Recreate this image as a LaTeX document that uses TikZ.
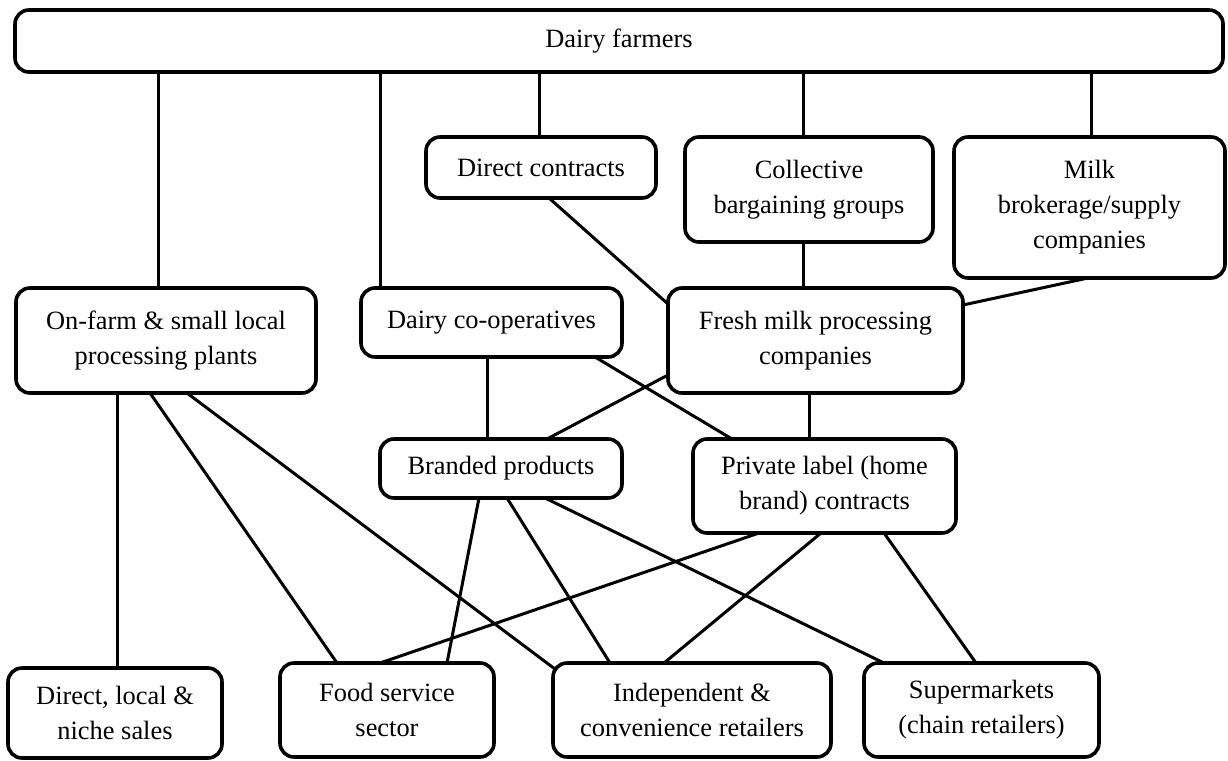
\documentclass[tikz,border=0pt]{standalone}
\usepackage{fontspec}
\setmainfont{Liberation Serif}
\begin{document}
\begin{tikzpicture}[x=1pt,y=-1pt,
  box/.style={draw=black, line width=3.6pt, fill=white, rounded corners=14pt,
    inner sep=0pt, outer sep=0pt, anchor=north west, align=center,
    font=\fontsize{26.4}{35}\selectfont},
  link/.style={draw=black, line width=3pt}]
\useasboundingbox (0,0) rectangle (1228,760);
% nodes: position = top-left corner, size from reference
\node[box, minimum width=1208pt, minimum height=62pt] (farmers) at (15,10) {Dairy farmers};
\node[box, minimum width=230pt, minimum height=61pt] (direct) at (426,137) {Direct contracts};
\node[box, minimum width=248pt, minimum height=105pt] (collective) at (685,137) {Collective\\bargaining groups};
\node[box, minimum width=271pt, minimum height=141pt] (milk) at (954,137) {Milk\\brokerage/supply\\companies};
\node[box, minimum width=300pt, minimum height=105pt] (onfarm) at (16,288) {On-farm \& small local\\processing plants};
\node[box, minimum width=261pt, minimum height=69pt] (coop) at (361,288) {Dairy co-operatives};
\node[box, minimum width=295pt, minimum height=105pt] (fresh) at (668,288) {Fresh milk processing\\companies};
\node[box, minimum width=242pt, minimum height=59pt] (branded) at (380,439) {Branded products};
\node[box, minimum width=263pt, minimum height=94pt] (private) at (693,439) {Private label (home\\brand) contracts};
\node[box, minimum width=214pt, minimum height=90pt] (dlocal) at (8,668) {Direct, local \&\\niche sales};
\node[box, minimum width=214pt, minimum height=94pt] (food) at (280,663) {Food service\\sector};
\node[box, minimum width=278pt, minimum height=94pt] (indep) at (553,663) {Independent \&\\convenience retailers};
\node[box, minimum width=235pt, minimum height=94pt] (super) at (864,663) {Supermarkets\\(chain retailers)};
% connectors
\draw[link] ([xshift=143pt]farmers.south west) -- ([xshift=142pt]onfarm.north west);
\draw[link] ([xshift=365pt]farmers.south west) -- ([xshift=19pt]coop.north west);
\draw[link] ([xshift=524pt]farmers.south west) -- ([xshift=113pt]direct.north west);
\draw[link] ([xshift=788pt]farmers.south west) -- ([xshift=118pt]collective.north west);
\draw[link] ([xshift=1076pt]farmers.south west) -- ([xshift=137pt]milk.north west);
\draw[link] ([xshift=123pt]direct.south west) -- ([yshift=-16pt]fresh.north west);
\draw[link] ([xshift=118pt]collective.south west) -- ([xshift=135pt]fresh.north west);
\draw[link] ([xshift=134pt]milk.south west) -- ([yshift=-17pt]fresh.north east);
\draw[link] ([xshift=126pt]coop.south west) -- ([xshift=107pt]branded.north west);
\draw[link] ([xshift=234pt]coop.south west) -- ([xshift=39pt]private.north west);
\draw[link] ([yshift=18pt]fresh.south west) -- ([xshift=167pt]branded.north west);
\draw[link] ([xshift=141pt]fresh.south west) -- ([xshift=116pt]private.north west);
\draw[link] ([xshift=101pt]onfarm.south west) -- ([xshift=109pt]dlocal.north west);
\draw[link] ([xshift=134pt]onfarm.south west) -- ([xshift=57pt]food.north west);
\draw[link] ([xshift=171pt]onfarm.south west) -- ([xshift=2pt,yshift=-6pt]indep.north west);
\draw[link] ([xshift=99pt]branded.south west) -- ([xshift=167pt]food.north west);
\draw[link] ([xshift=127pt]branded.south west) -- ([xshift=57pt]indep.north west);
\draw[link] ([xshift=165pt]branded.south west) -- ([xshift=20pt]super.north west);
\draw[link] ([xshift=66pt]private.south west) -- ([xshift=100pt]food.north west);
\draw[link] ([xshift=128pt]private.south west) -- ([xshift=111pt]indep.north west);
\draw[link] ([xshift=191pt]private.south west) -- ([xshift=112pt]super.north west);
\end{tikzpicture}
\end{document}
